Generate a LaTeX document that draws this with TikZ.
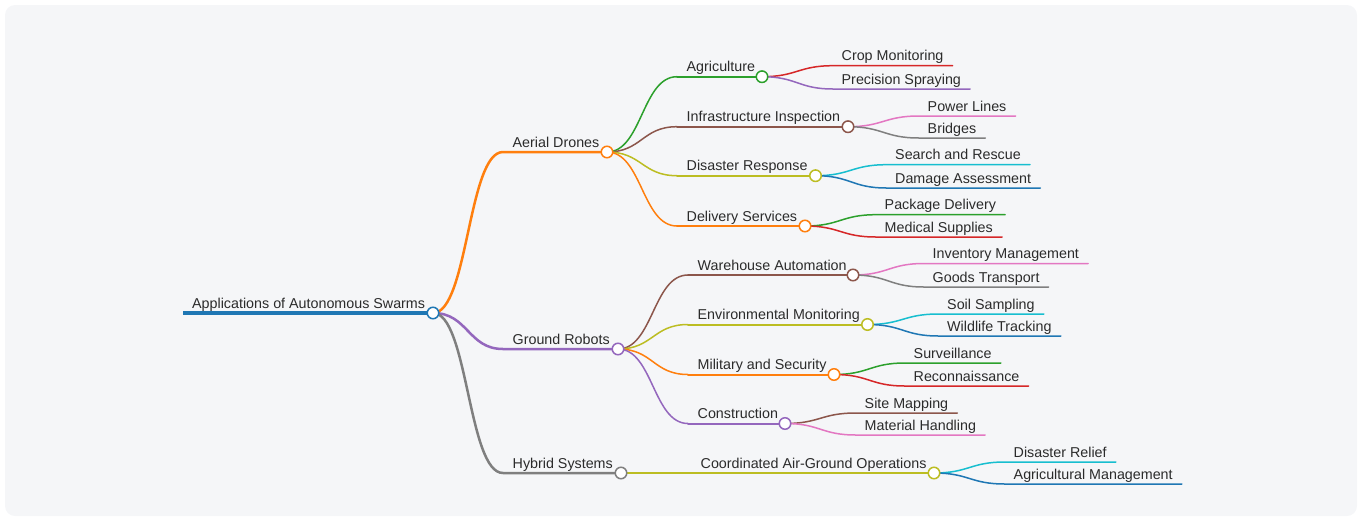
\documentclass[tikz,border=0pt]{standalone}
\usepackage{fontspec}
\setmainfont{Liberation Sans}
\usetikzlibrary{calc}

\definecolor{mmblue}{HTML}{1F77B4}
\definecolor{mmorange}{HTML}{FF7F0E}
\definecolor{mmgreen}{HTML}{2CA02C}
\definecolor{mmred}{HTML}{D62728}
\definecolor{mmpurple}{HTML}{9467BD}
\definecolor{mmbrown}{HTML}{8C564B}
\definecolor{mmpink}{HTML}{E377C2}
\definecolor{mmgray}{HTML}{7F7F7F}
\definecolor{mmolive}{HTML}{BCBD22}
\definecolor{mmcyan}{HTML}{17BECF}
\definecolor{mmtext}{HTML}{2B2B2B}
\definecolor{mmback}{HTML}{F5F6F8}

\tikzset{
  topic/.style={anchor=base west, inner sep=0pt, text=mmtext,
    font=\fontsize{14.3}{16}\selectfont},
  dot/.style={circle, draw=#1, fill=white, line width=1.5pt,
    minimum size=11.5pt, inner sep=0pt},
  link/.style={line width=#1, line cap=round},
}

\begin{document}
\begin{tikzpicture}[x=1pt, y=-1pt]
\useasboundingbox (0,0) rectangle (1362,520);
\fill [mmback, rounded corners=10pt] (5,5) rectangle (1357,516);

% root
\coordinate (root-s) at (183,313);
\coordinate (root) at (433,313);
\node [topic] (root-l) at (192,308) {Applications of Autonomous Swarms};
\draw [mmblue, line width=4pt] (root-s) -- (root);

% first level
\foreach \m/\l/\c/\y/\x in {aerial/Aerial Drones/mmorange/152/607,
    ground/Ground Robots/mmpurple/349/618,
    hybrid/Hybrid Systems/mmgray/473/621} {
  \coordinate (\m-s) at (503,\y);
  \coordinate (\m) at (\x,\y);
  \node [topic] (\m-l) at (512.5,\y-5) {\l};
  \draw [\c, link=2.5pt] (root) .. controls +(35,0) and +(-35,0) .. (\m-s) -- (\m);
}

% second level
\foreach \m/\l/\c/\y/\p/\x in {agri/Agriculture/mmgreen/76.7/aerial/762,
    infra/Infrastructure Inspection/mmbrown/126.7/aerial/848,
    disaster/Disaster Response/mmolive/175.7/aerial/815.5,
    delivery/Delivery Services/mmorange/226/aerial/805,
    warehouse/Warehouse Automation/mmbrown/275/ground/853,
    env/Environmental Monitoring/mmolive/324.5/ground/867.5,
    military/Military and Security/mmorange/374.5/ground/834,
    constr/Construction/mmpurple/423.5/ground/785,
    coord/Coordinated Air-Ground Operations/mmolive/473/hybrid/934} {
  \coordinate (\m-s) at ($(\p |- 0,\y)+(70,0)$);
  \coordinate (\m) at (\x,\y);
  \node [topic] (\m-l) at ($(\m-s)+(9.5,-5)$) {\l};
  \draw [\c, link=1.5pt] (\p) .. controls +(35,0) and +(-35,0) .. (\m-s);
  \draw [\c, link=2pt] (\m-s) -- (\m);
}

% leaves
\foreach \l/\c/\y/\p [count=\i] in {Crop Monitoring/mmred/65.7/agri,
    Precision Spraying/mmpurple/89/agri,
    Power Lines/mmpink/116/infra,
    Bridges/mmgray/138/infra,
    Search and Rescue/mmcyan/164.7/disaster,
    Damage Assessment/mmblue/188/disaster,
    Package Delivery/mmgreen/214.7/delivery,
    Medical Supplies/mmred/237/delivery,
    Inventory Management/mmpink/263.5/warehouse,
    Goods Transport/mmgray/287/warehouse,
    Soil Sampling/mmcyan/314/env,
    Wildlife Tracking/mmblue/336/env,
    Surveillance/mmgreen/363/military,
    Reconnaissance/mmred/386/military,
    Site Mapping/mmbrown/413/constr,
    Material Handling/mmpink/435/constr,
    Disaster Relief/mmcyan/462/coord,
    Agricultural Management/mmblue/484/coord} {
  \coordinate (leaf-\i-s) at ($(\p |- 0,\y)+(71,0)$);
  \node [topic] (leaf-\i) at ($(leaf-\i-s)+(8.5,-5)$) {\l};
  \draw [\c, link=1.5pt] (\p) .. controls +(35,0) and +(-35,0) .. (leaf-\i-s)
    -- ([xshift=9pt, yshift=-5pt]leaf-\i.base east);
}

% circles on top of the lines
\foreach \m/\c in {root/mmblue, aerial/mmorange, ground/mmpurple, hybrid/mmgray,
    agri/mmgreen, infra/mmbrown, disaster/mmolive, delivery/mmorange,
    warehouse/mmbrown, env/mmolive, military/mmorange, constr/mmpurple,
    coord/mmolive}
  \node [dot=\c] (\m-dot) at (\m) {};

\end{tikzpicture}
\end{document}
